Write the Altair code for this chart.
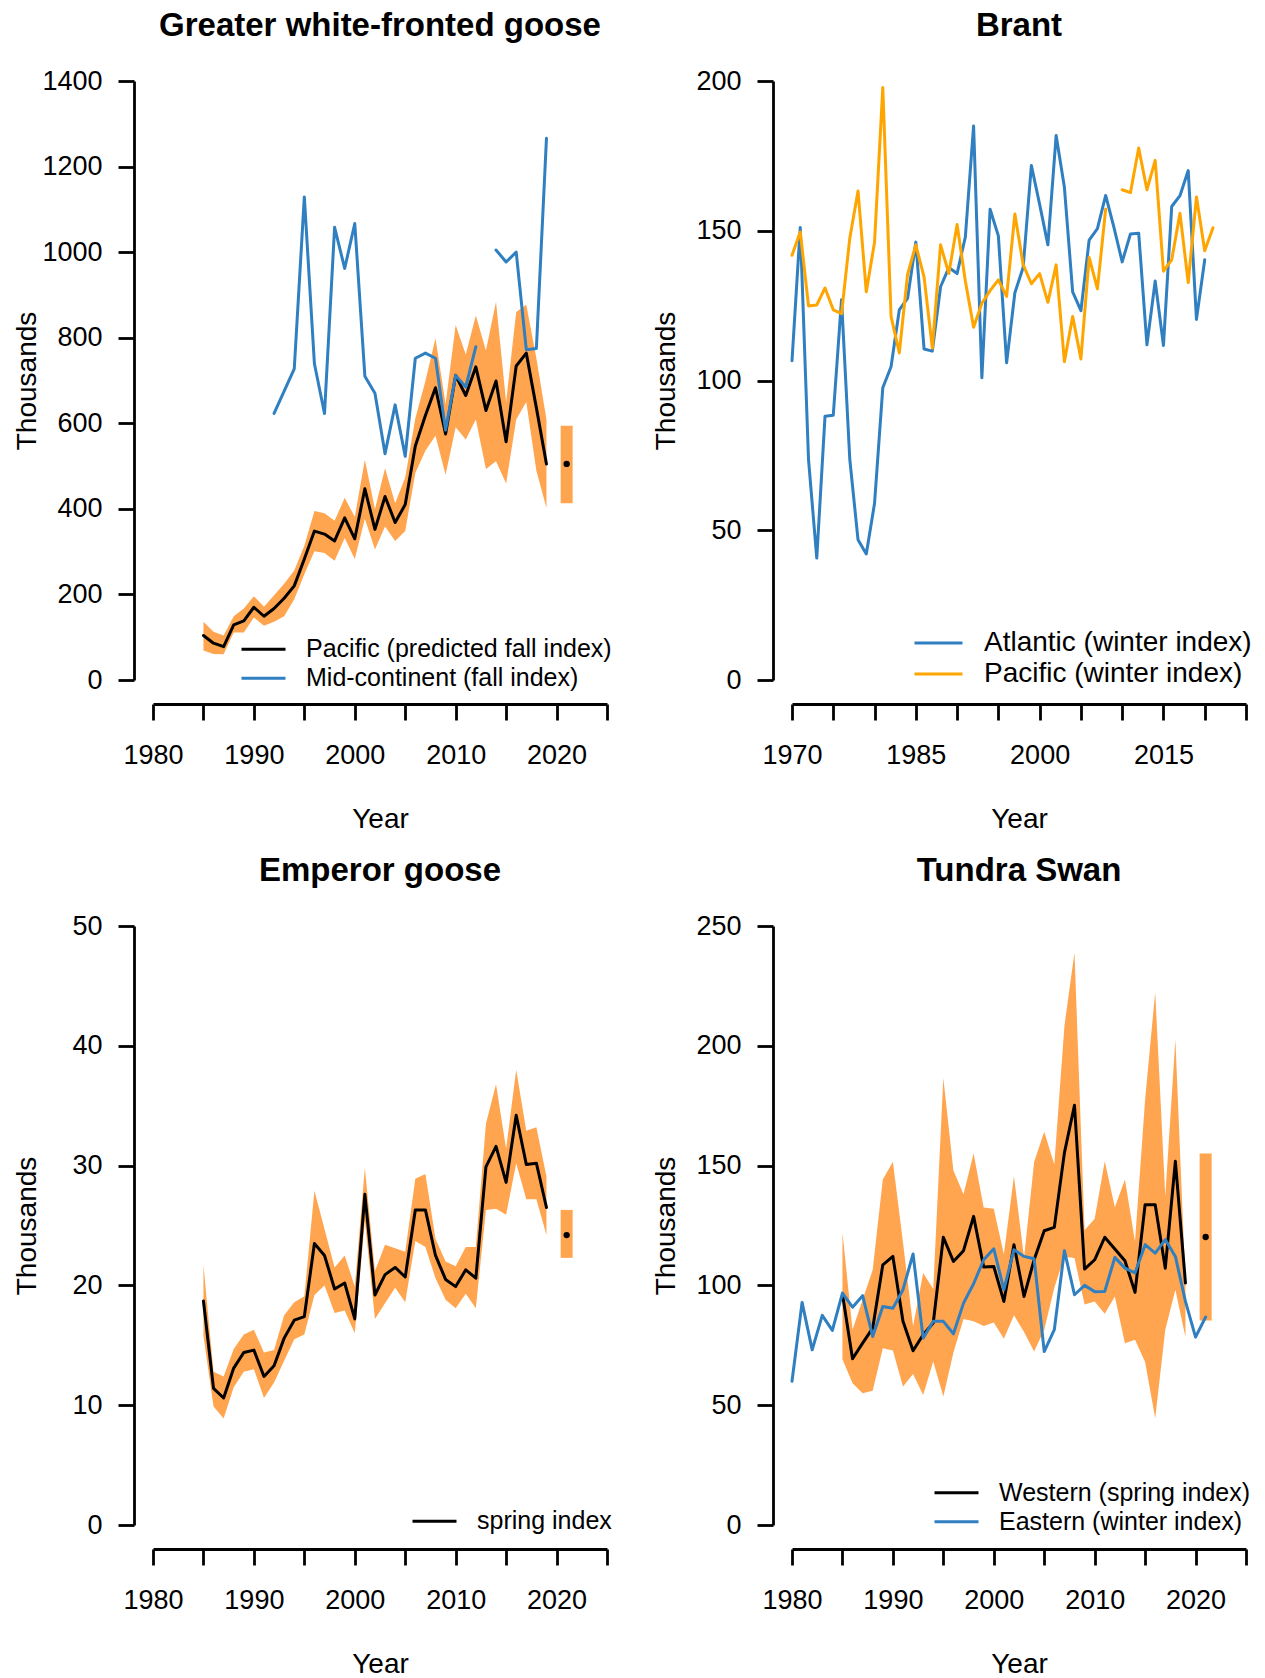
import altair as alt
import pandas as pd

FONT = "Liberation Sans"
BAND = "#FFA54F"
BLUE = "#2F7FC1"
ORANGE = "#FFA500"
BLACK = "#000000"
LW = 3.0
PW, PH = 454, 599

# ---------------- Greater white-fronted goose ----------------
gw_years = list(range(1985, 2020))
gw_pacific = [104, 86, 78, 129, 138, 170, 149, 167, 191, 220, 283, 348, 341, 325, 379,
              330, 447, 352, 429, 368, 410, 547, 618, 683, 575, 712, 665, 732, 630, 699,
              557, 734, 764, 636, 505]
gw_upper = [136, 113, 104, 149, 167, 196, 171, 198, 225, 256, 314, 395, 390, 372, 426,
            381, 515, 399, 495, 413, 473, 611, 699, 799, 645, 830, 761, 852, 770, 884,
            650, 860, 877, 752, 609]
gw_lower = [69, 61, 60, 111, 111, 146, 127, 136, 149, 189, 247, 301, 297, 279, 332,
            283, 377, 305, 359, 325, 348, 484, 536, 571, 480, 591, 562, 609, 493, 511,
            459, 609, 650, 489, 402]
mc_years = list(range(1992, 2020))
mc_vals = [623, 675, 727, 1129, 739, 623, 1058, 962, 1067, 710, 670, 529, 643, 523, 752,
           764, 752, 584, 712, 685, 779, None, 1005, 977, 1000, 772, 775, 1266]
gw_pred = {"year": 2021, "lo": 413, "hi": 594, "est": 505}

# ---------------- Brant ----------------
br_years = list(range(1970, 2022))
br_atlantic = [106.6, 151.1, 73.7, 40.7, 88.1, 88.4, 127.0, 73.7, 46.8, 42.1,
               59.0, 97.6, 104.6, 123.6, 127.4, 146.2, 110.5, 109.8, 131.3, 137.7,
               135.7, 147.9, 185.0, 100.9, 157.2, 148.3, 105.9, 129.3, 137.7, 171.8,
               158.8, 145.3, 181.8, 164.5, 129.6, 123.3, 146.9, 150.7, 161.8, 151.1,
               139.6, 148.9, 149.2, 111.9, 133.2, 111.7, 158.1, 161.7, 170.1, 120.4,
               140.3, None]
br_pacific = [141.8, 149.6, 124.9, 125.2, 130.9, 123.6, 122.3, 147.5, 163.3, 129.6,
              146.2, 197.8, 121.4, 109.2, 135.4, 145.3, 134.5, 110.8, 145.3, 135.7,
              152.1, 133.2, 117.8, 125.8, 130.0, 133.6, 128.1, 155.6, 138.7, 132.3,
              135.7, 126.1, 138.6, 106.3, 121.4, 107.2, 141.1, 130.6, 157.2, None,
              163.7, 162.7, 177.6, 163.7, 173.5, 136.5, 140.3, 155.8, 132.7, 161.3,
              143.3, 151.0]

# ---------------- Emperor goose ----------------
em_years = list(range(1985, 2020))
em_index = [18.7, 11.4, 10.6, 13.1, 14.4, 14.6, 12.4, 13.3, 15.6, 17.1, 17.4, 23.5,
            22.5, 19.7, 20.2, 17.2, 27.6, 19.2, 20.9, 21.5, 20.7, 26.3, 26.3, 22.5,
            20.5, 19.9, 21.3, 20.6, 29.9, 31.6, 28.6, 34.2, 30.1, 30.2, 26.5]
em_upper = [21.7, 12.8, 12.4, 14.7, 15.9, 16.3, 14.4, 14.6, 17.5, 18.6, 19.1, 27.9,
            24.7, 21.5, 22.5, 19.9, 29.8, 21.2, 23.4, 23.1, 22.8, 28.9, 29.3, 23.9,
            22.0, 21.6, 23.2, 23.2, 33.5, 36.8, 31.4, 38.0, 32.9, 33.2, 29.1]
em_lower = [15.8, 9.9, 8.9, 11.5, 12.8, 13.0, 10.6, 11.9, 13.7, 15.5, 15.9, 19.2,
            20.0, 17.7, 17.9, 16.0, 25.4, 17.2, 18.5, 19.8, 18.6, 23.7, 23.2, 20.6,
            18.8, 18.1, 19.3, 18.1, 26.3, 26.4, 25.9, 30.2, 27.2, 27.2, 24.2]
em_pred = {"year": 2021, "lo": 22.3, "hi": 26.3, "est": 24.2}

# ---------------- Tundra swan ----------------
ts_years = list(range(1985, 2020))
ts_western = [96.4, 69.4, 75.9, 82.2, 108.6, 112.1, 85.0, 72.7, 79.4, 84.3, 120.1, 110.0,
              114.5, 128.8, 107.7, 107.9, 93.3, 117.0, 95.4, 110.7, 122.8, 124.2, 155.3,
              175.2, 106.8, 110.7, 120.1, 115.2, 110.3, 97.1, 133.7, 133.7, 107.2, 151.8,
              101.0]
ts_upper = [122.1, 81.5, 94.0, 106.5, 144.2, 151.6, 118.0, 82.9, 105.2, 98.5, 186.6, 148.0,
            138.0, 155.0, 132.5, 132.0, 113.0, 145.6, 111.5, 151.5, 164.1, 150.5, 208.2,
            238.9, 123.0, 127.8, 151.8, 132.6, 144.2, 118.3, 177.6, 222.4, 137.2, 202.6,
            101.5]
ts_lower = [69.2, 59.2, 55.0, 56.0, 73.8, 72.8, 57.8, 63.0, 54.3, 68.2, 53.6, 72.0,
            86.0, 85.0, 83.1, 84.5, 77.7, 87.5, 80.5, 72.4, 81.5, 99.0, 112.0, 111.4,
            92.0, 93.3, 88.2, 95.4, 75.9, 77.3, 68.0, 44.6, 81.5, 98.2, 78.5]
ts_e_years = list(range(1980, 2022))
ts_eastern = [60.0, 92.9, 73.1, 87.5, 81.2, 96.8, 90.9, 95.7, 78.7, 91.2, 90.5, 98.2,
              113.1, 78.0, 85.0, 85.0, 79.8, 92.6, 100.7, 110.7, 115.3, 98.2, 114.9,
              112.1, 111.1, 72.4, 81.5, 114.5, 96.1, 100.0, 97.4, 97.5, 111.7, 107.2,
              105.2, 117.0, 113.5, 119.1, 112.1, 93.3, 78.4, 86.8]
ts_pred = {"year": 2021, "lo": 85.4, "hi": 155.0, "est": 120.2}


def runs(years, vals, series):
    rows, seg, prev = [], 0, False
    for y, v in zip(years, vals):
        if v is None:
            if prev:
                seg += 1
            prev = False
            continue
        rows.append({"year": y, "value": v, "series": series, "seg": f"{series}-{seg}"})
        prev = True
    return pd.DataFrame(rows)


def band_df(years, lower, upper):
    return pd.DataFrame({"year": years, "lower": lower, "upper": upper})


def panel(title, xdom, xfirst, xstep, ydom, ystep, band, lines, pred, leg):
    xticks = list(range(xdom[0], xdom[1] + 1, 5))
    yticks = list(range(ydom[0], ydom[1] + 1, ystep))
    xscale = alt.Scale(domain=xdom, nice=False, zero=False)
    xaxis = alt.Axis(values=xticks, format="d",
                     labelExpr=f"(datum.value - {xfirst}) % {xstep} == 0 ? datum.label : ''")
    yscale = alt.Scale(domain=ydom, nice=False, zero=False)
    yaxis = alt.Axis(values=yticks, format="d")
    X = alt.X("year:Q", scale=xscale, axis=xaxis, title="Year")
    names = [n for n, _, _ in lines]
    cols = [c for _, _, c in lines]
    legend = alt.Legend(orient="none", legendX=leg["x"], legendY=leg["y"], title=None,
                        symbolType="stroke", symbolSize=leg["sym"] ** 2, symbolStrokeWidth=LW,
                        labelFont=FONT, labelFontSize=leg["fs"], labelColor="black",
                        labelOffset=leg["off"], padding=0, clipHeight=leg["row"] - 2,
                        rowPadding=2, labelLimit=0)
    layers = []
    if band is not None:
        layers.append(alt.Chart(band).mark_area(color=BAND, opacity=1).encode(
            x=X, y=alt.Y("lower:Q", scale=yscale, axis=yaxis, title="Thousands"),
            y2="upper:Q"))
    if pred is not None:
        pdf = pd.DataFrame([pred])
        layers.append(alt.Chart(pdf).mark_rule(color=BAND, strokeWidth=12, strokeCap="butt").encode(
            x=X, y=alt.Y("lo:Q", scale=yscale, axis=yaxis, title="Thousands"), y2="hi:Q"))
    for name, df, col in lines:
        layers.append(alt.Chart(df).mark_line(strokeWidth=LW, strokeJoin="round", strokeCap="round").encode(
            x=X, y=alt.Y("value:Q", scale=yscale, axis=yaxis, title="Thousands"),
            color=alt.Color("series:N", scale=alt.Scale(domain=names, range=cols), legend=legend),
            detail="seg:N"))
    if pred is not None:
        pdf = pd.DataFrame([pred])
        layers.append(alt.Chart(pdf).mark_point(filled=True, color="black", size=40, opacity=1).encode(
            x=X, y=alt.Y("est:Q", scale=yscale, axis=yaxis, title="Thousands")))
    return alt.layer(*layers).properties(width=PW, height=PH, title=title)


LEG_STD = {"sym": 44, "fs": 25, "off": 19, "row": 28.5}

p1 = panel("Greater white-fronted goose", [1980, 2025], 1980, 10, [0, 1400], 200,
           band_df(gw_years, gw_lower, gw_upper),
           [("Pacific (predicted fall index)", runs(gw_years, gw_pacific, "Pacific (predicted fall index)"), BLACK),
            ("Mid-continent (fall index)", runs(mc_years, mc_vals, "Mid-continent (fall index)"), BLUE)],
           gw_pred, dict(LEG_STD, x=87, y=555))
p2 = panel("Brant", [1970, 2025], 1970, 15, [0, 200], 50, None,
           [("Atlantic (winter index)", runs(br_years, br_atlantic, "Atlantic (winter index)"), BLUE),
            ("Pacific (winter index)", runs(br_years, br_pacific, "Pacific (winter index)"), ORANGE)],
           None, {"x": 121, "y": 547.5, "sym": 48, "fs": 28, "off": 20, "row": 31})
p3 = panel("Emperor goose", [1980, 2025], 1980, 10, [0, 50], 10,
           band_df(em_years, em_lower, em_upper),
           [("spring index", runs(em_years, em_index, "spring index"), BLACK)],
           em_pred, dict(LEG_STD, x=258, y=582))
p4 = panel("Tundra Swan", [1980, 2025], 1980, 10, [0, 250], 50,
           band_df(ts_years, ts_lower, ts_upper),
           [("Western (spring index)", runs(ts_years, ts_western, "Western (spring index)"), BLACK),
            ("Eastern (winter index)", runs(ts_e_years, ts_eastern, "Eastern (winter index)"), BLUE)],
           ts_pred, dict(LEG_STD, x=141, y=553.5))

chart = alt.concat(p1, p2, p3, p4, columns=2,
                   spacing=alt.RowColnumber(row=246, column=185),
                   bounds="flush").resolve_scale(
    x="independent", y="independent", color="independent"
).resolve_legend(color="independent").properties(
    padding={"left": 5, "top": 2, "right": 2, "bottom": 0}
).configure_view(stroke=None).configure_axis(
    domainColor="black", domainWidth=2.8, tickColor="black", tickWidth=2.8, tickSize=16,
    labelFont=FONT, labelFontSize=27, labelColor="black", labelFlush=False,
    labelOverlap=False, grid=False, titleFont=FONT, titleFontSize=28,
    titleFontWeight="normal", titleColor="black"
).configure_axisX(
    offset=24, labelPadding=35, labelBaseline="middle", labelAlign="center",
    titleY=115, titleBaseline="middle", titleAlign="center"
).configure_axisY(
    offset=19, labelPadding=16, titleX=-107, titleY=299.5, titleAngle=270,
    titleBaseline="middle", titleAlign="center"
).configure_title(
    font=FONT, fontSize=33, fontWeight="bold", color="black", anchor="middle",
    frame="group", offset=24, baseline="alphabetic"
)

chart.save("out.html", embed_options={"renderer": "svg", "actions": False})
